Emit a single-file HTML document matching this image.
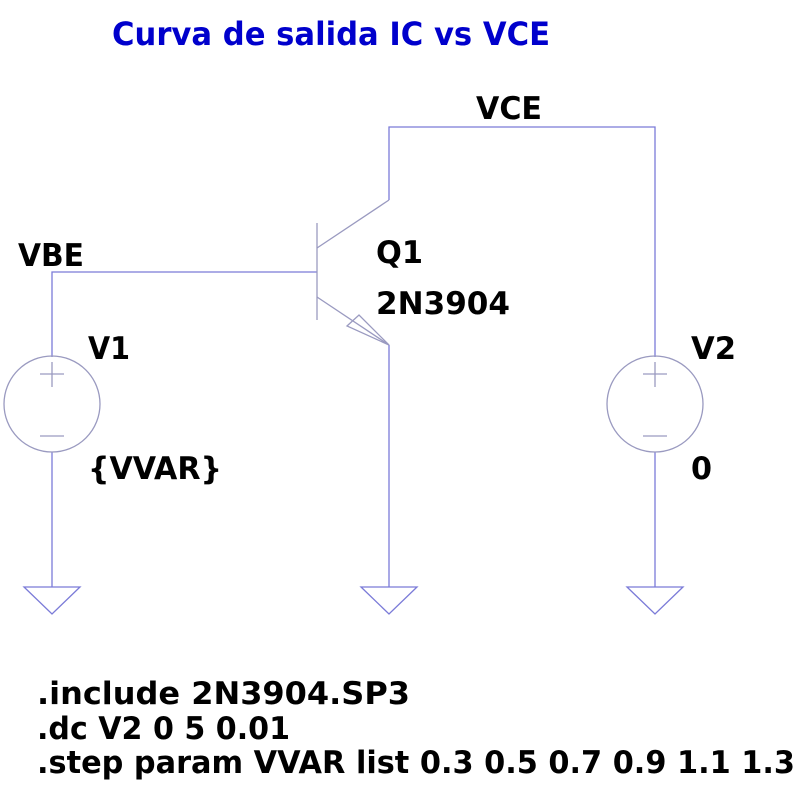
<!DOCTYPE html>
<html><head><meta charset="utf-8"><style>html,body{margin:0;padding:0;background:#fff}svg{display:block}</style></head>
<body>
<svg width="800" height="800" viewBox="0 0 800 800" xmlns="http://www.w3.org/2000/svg" font-family="DejaVu Sans, Liberation Sans, sans-serif" font-weight="bold">
<g stroke="#7b7bd8" stroke-width="1.3" fill="none">
<polyline points="52,357 52,272 317,272"/>
<line x1="52" y1="452" x2="52" y2="587"/>
<polygon points="24,587 80,587 52,614"/>
<polyline points="389,200 389,127 655,127 655,357"/>
<line x1="389" y1="345" x2="389" y2="587"/>
<polygon points="361,587 417,587 389,614"/>
<line x1="655" y1="452" x2="655" y2="587"/>
<polygon points="627,587 683,587 655,614"/>
</g>
<g stroke="#9a9ac0" stroke-width="1.3" fill="none">
<line x1="317" y1="223" x2="317" y2="320"/>
<line x1="317" y1="248" x2="389" y2="200"/>
<line x1="317" y1="297" x2="389" y2="345"/>
<polygon points="389,345 347,326 359,315"/>
<circle cx="52" cy="404" r="48"/>
<circle cx="655" cy="404" r="48"/>
<line x1="40" y1="374" x2="64" y2="374"/><line x1="52" y1="362" x2="52" y2="387"/>
<line x1="40" y1="436" x2="64" y2="436"/>
<line x1="643" y1="374" x2="667" y2="374"/><line x1="655" y1="362" x2="655" y2="387"/>
<line x1="643" y1="436" x2="667" y2="436"/>
</g>
<text x="112" y="45" font-size="32" fill="#0000cc" textLength="438" lengthAdjust="spacingAndGlyphs">Curva de salida IC vs VCE</text>
<g fill="#000" font-size="31">
<text x="476" y="119" textLength="66" lengthAdjust="spacingAndGlyphs">VCE</text>
<text x="18" y="266" textLength="66" lengthAdjust="spacingAndGlyphs">VBE</text>
<text x="376" y="263" textLength="47" lengthAdjust="spacingAndGlyphs">Q1</text>
<text x="376" y="314" textLength="134" lengthAdjust="spacingAndGlyphs">2N3904</text>
<text x="88" y="359" textLength="42" lengthAdjust="spacingAndGlyphs">V1</text>
<text x="691" y="359" textLength="45" lengthAdjust="spacingAndGlyphs">V2</text>
<text x="88" y="479" textLength="134" lengthAdjust="spacingAndGlyphs">{VVAR}</text>
<text x="691" y="479" textLength="21" lengthAdjust="spacingAndGlyphs">0</text>
<text x="37" y="704" textLength="373" lengthAdjust="spacingAndGlyphs">.include 2N3904.SP3</text>
<text x="37" y="739" textLength="253" lengthAdjust="spacingAndGlyphs">.dc V2 0 5 0.01</text>
<text x="37" y="773" textLength="758" lengthAdjust="spacingAndGlyphs">.step param VVAR list 0.3 0.5 0.7 0.9 1.1 1.3</text>
</g>
</svg>
</body></html>
